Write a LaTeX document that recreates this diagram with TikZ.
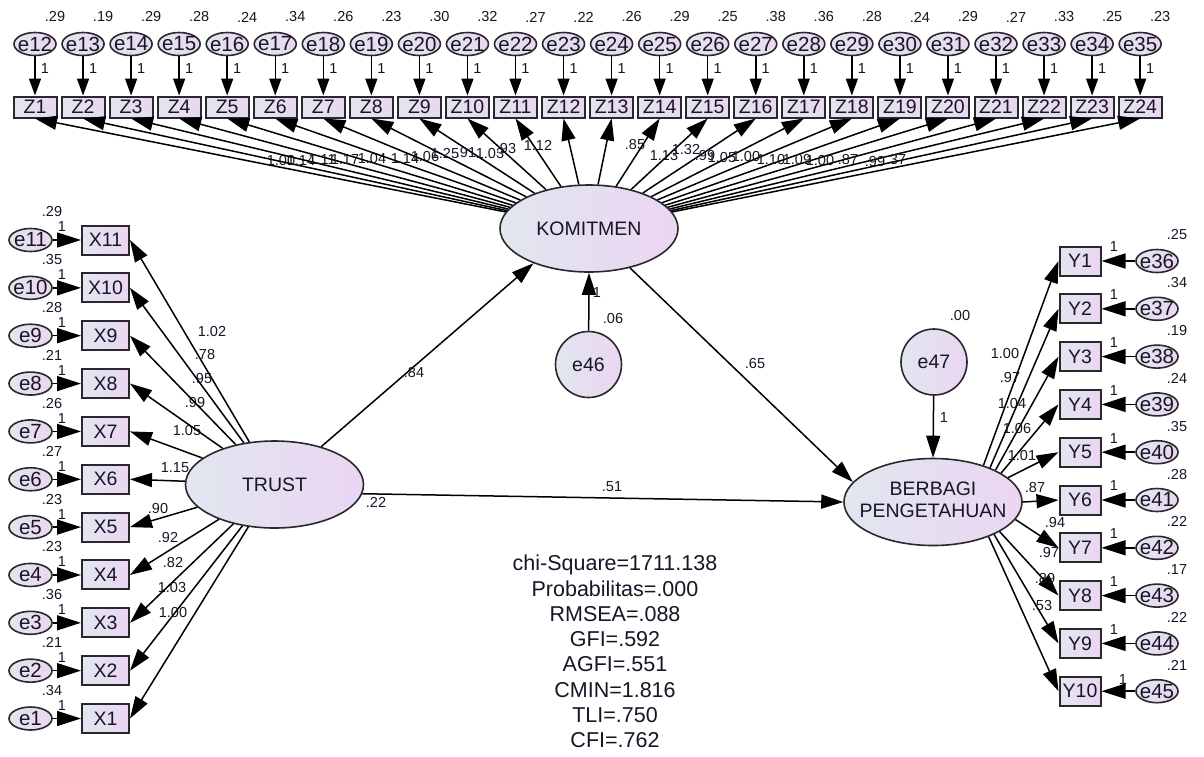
\documentclass[tikz,border=0pt]{standalone}
\usepackage{fontspec}
\setmainfont{Liberation Sans}
\usetikzlibrary{arrows.meta,shapes.geometric}
\definecolor{lc}{RGB}{225,231,239}
\definecolor{rc}{RGB}{235,213,242}
\definecolor{ink}{RGB}{22,22,38}
\definecolor{edge}{RGB}{40,40,45}
\newcommand\ctrbox[1]{\makebox[0pt]{#1}}
\tikzset{
  shadednode/.style={draw=edge, left color=lc, right color=rc, text=ink, inner sep=0pt},
  obsbox/.style={shadednode, rectangle, line width=2pt, font=\fontsize{19.5}{19.5}\selectfont},
  zbox/.style={obsbox, minimum width=43pt, minimum height=21pt},
  xbox/.style={obsbox, minimum width=47pt, minimum height=29pt},
  ybox/.style={obsbox, minimum width=41pt, minimum height=29pt},
  errsm/.style={shadednode, ellipse, line width=1.6pt, minimum width=42pt, minimum height=23pt, font=\fontsize{20.5}{20.5}\selectfont},
  errbig/.style={shadednode, circle, line width=1.6pt, minimum size=66pt, font=\fontsize{19.5}{20}\selectfont},
  latent/.style={shadednode, ellipse, line width=1.6pt, minimum width=178pt, minimum height=87pt, font=\fontsize{19.5}{22}\selectfont},
  num/.style={text=ink, inner sep=0pt, font=\fontsize{14.5}{14.5}\selectfont},
  stat/.style={text=ink, inner sep=0pt, font=\fontsize{21.5}{22}\selectfont},
  arr/.style={draw=black, line width=1.5pt, -{Triangle[length=22pt,width=14pt]}},
  arrv/.style={draw=black, line width=1.5pt, -{Triangle[length=17pt,width=12pt]}},
  arrh/.style={draw=black, line width=1.5pt, -{Triangle[length=24pt,width=15pt]}},
}
\begin{document}
\begin{tikzpicture}[x=1pt,y=-1pt]
\useasboundingbox[fill=white] (0,0) rectangle (1204,756);

% latent variables
\node[latent] (KOM) at (589,228.5) {\ctrbox{KOMITMEN}};
\node[latent] (TRUST) at (274.5,484.5) {\ctrbox{TRUST}};
\node[latent] (BP) at (933,502) {\ctrbox{\begin{tabular}{@{}c@{}}BERBAGI\\PENGETAHUAN\end{tabular}}};
\node[errbig] (e46) at (588.5,364.5) {e46};
\node[errbig] (e47) at (934,362) {e47};

% top row: KOMITMEN indicators
\foreach \v [count=\i from 0] in {.29,.19,.29,.28,.24,.34,.26,.23,.30,.32,.27,.22,.26,.29,.25,.38,.36,.28,.24,.29,.27,.33,.25,.23} {
  \pgfmathsetmacro\cx{35+48.05*\i}
  \pgfmathtruncatemacro\en{12+\i}
  \pgfmathtruncatemacro\zn{1+\i}
  \node[errsm] (e\en) at (\cx,44) {\ctrbox{e\en}};
  \node[zbox] (Z\zn) at (\cx,107) {Z\zn};
  \draw[arrv] (e\en) -- (Z\zn);
  \node[num] at (\cx+20,17) {\v};
  \node[num] at (\cx+10,69) {1};
}
\foreach \z/\lx/\ly/\t in {1/281/161/1.00, 2/301/161/1.14, 3/322/160/1.11, 4/345/160/1.17, 5/372/159/1.04,
  6/405/159/1.14, 7/425/157/1.06, 8/445/154/1.25, 9/466/153/.91, 10/490/154/1.03, 11/506/149/.93,
  12/538/145/1.12, 13/635/145/.85, 14/664/156/1.13, 15/686/150/1.32, 16/705/156/.99, 17/722/158/1.05,
  18/746/157/1.00, 19/771/160/1.10, 20/797/160/1.09, 21/820/161/1.00, 22/848/160/.87, 23/875/162/.99, 24/896/160/.37} {
  \draw[arr] (KOM) -- (Z\z.south);
  \node[num] at (\lx,\ly) {\t};
}

% left: TRUST indicators
\foreach \k/\v/\t/\lx/\ly in {1/.34/1.00/173/612, 2/.21/1.03/172/587, 3/.36/.82/173/562, 4/.23/.92/168/537,
  5/.23/.90/158/508, 6/.27/1.15/175/468, 7/.26/1.05/187/430, 8/.21/.99/195/402, 9/.28/.95/202/378,
  10/.35/.78/205/354, 11/.29/1.02/212/331} {
  \pgfmathsetmacro\cy{718.5-47.85*(\k-1)}
  \node[errsm, minimum width=43pt] (e\k) at (30.5,\cy) {\ctrbox{e\k}};
  \node[xbox] (X\k) at (105.5,\cy) {X\k};
  \draw[arrh] (e\k) -- (X\k);
  \draw[arr] (TRUST) -- (X\k.east);
  \node[num] at (52,\cy-28) {\v};
  \node[num] at (62,\cy-13) {1};
  \node[num] at (\lx,\ly) {\t};
}

% right: BERBAGI PENGETAHUAN indicators
\foreach \k/\v/\t/\lx/\ly/\ang in {1/.25/1.00/1005/353/36, 2/.34/.97/1010/377/31.7, 3/.19/1.04/1012/403/27.6,
  4/.24/1.06/1017/428/23.4, 5/.35/1.01/1022/455/18.2, 6/.28/.87/1035/487/0, 7/.22/.94/1055/522/-12,
  8/.17/.97/1049/552/-24, 9/.22/.89/1045/578/-28.5, 10/.21/.53/1042/605/-32} {
  \pgfmathsetmacro\cy{261+47.8*(\k-1)}
  \pgfmathtruncatemacro\en{35+\k}
  \node[ybox] (Y\k) at (1080,\cy) {Y\k};
  \node[errsm] (e\en) at (1157,\cy) {\ctrbox{e\en}};
  \draw[arrh] (e\en) -- (Y\k);
  \draw[arr] (BP.\ang) -- (Y\k.west);
  \node[num] at (1177,\cy-26) {\v};
  \node[num] at (\lx,\ly) {\t};
}
\foreach \k in {1,...,9} {
  \pgfmathsetmacro\cy{261+47.8*(\k-1)}
  \node[num] at (1114,\cy-14) {1};
}
\node[num] at (1123,679.5) {1};

% structural paths
\draw[arr] (TRUST.39) -- (KOM.212);
\draw[arr] (TRUST.-6) -- (BP.west);
\draw[arr] (KOM) -- (BP.166);
\draw[arr] (e46) -- (KOM.south);
\draw[arr] (e47) -- (BP.north);
\node[num] at (414,372) {.84};
\node[num] at (755,363) {.65};
\node[num] at (612,487) {.51};
\node[num] at (376,502) {.22};
\node[num] at (613,319) {.06};
\node[num] at (597,293) {1};
\node[num] at (960,316) {.00};
\node[num] at (944,418) {1};

% fit statistics
\foreach \s [count=\n from 0] in {chi-Square=1711.138, Probabilitas=.000, RMSEA=.088, GFI=.592, AGFI=.551, CMIN=1.816, TLI=.750, CFI=.762} {
  \node[stat, anchor=base] at (615,570.7+25.3*\n) {\s};
}
\end{tikzpicture}
\end{document}
